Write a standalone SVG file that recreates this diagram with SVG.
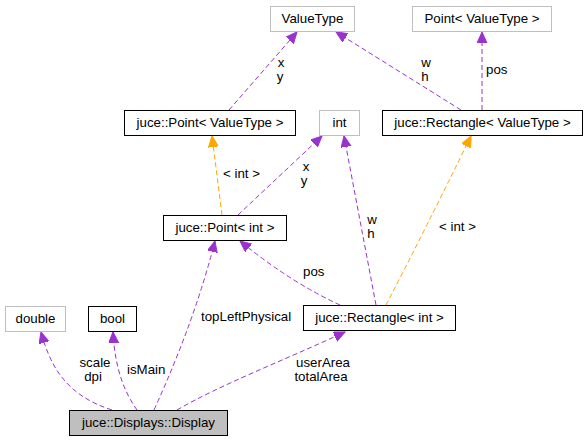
<svg xmlns="http://www.w3.org/2000/svg" width="587" height="441" viewBox="0 0 587 441">
<style>
  .n rect { fill: #ffffff; stroke: #000000; stroke-width: 1; }
  .n.u rect { stroke: #bfbfbf; }
  .n.cur rect { fill: #bfbfbf; stroke: #000000; }
  text { font-family: "Liberation Sans", Arial, Helvetica, sans-serif; font-size: 13.3px; fill: #000000; }
  .n text { text-anchor: middle; }
  .e { fill: none; stroke-width: 1; stroke-dasharray: 5,3; }
  .p { stroke: #9a32cd; marker-end: url(#ap); }
  .o { stroke: #ffa500; marker-end: url(#ao); }
  .lbl { text-anchor: middle; }
</style>
<defs>
  <marker id="ap" markerWidth="13" markerHeight="12" refX="11" refY="5" orient="auto" markerUnits="userSpaceOnUse">
    <path d="M0,0 L11,5 L0,10 z" fill="#9a32cd" stroke="#9a32cd" stroke-width="1"/>
  </marker>
  <marker id="ao" markerWidth="13" markerHeight="12" refX="11" refY="5" orient="auto" markerUnits="userSpaceOnUse">
    <path d="M0,0 L11,5 L0,10 z" fill="#ffa500" stroke="#ffa500" stroke-width="1"/>
  </marker>
</defs>
<rect x="0" y="0" width="587" height="441" fill="#ffffff"/>
<g id="connectors">
  <path class="e p" d="M229,110 L297,32"/>
  <path class="e p" d="M461,110 L336,32"/>
  <path class="e p" d="M482,110 L482,32"/>
  <path class="e o" d="M222,215 L212,136"/>
  <path class="e p" d="M238,215 L322,136"/>
  <path class="e p" d="M376,305 L344,136"/>
  <path class="e o" d="M386,305 Q425,230 471,136"/>
  <path class="e p" d="M340,305 Q290,282 240,241"/>
  <path class="e p" d="M112,410 C65,395 50,365 41,332"/>
  <path class="e p" d="M137,410 C125,393 115,370 113,332"/>
  <path class="e p" d="M154,410 Q195,320 215,241"/>
  <path class="e p" d="M177,410 C220,385 280,362 345,332"/>
  <g id="edge-labels">
    <text class="lbl" x="281" y="67">x</text>
    <text class="lbl" x="280" y="81">y</text>
    <text class="lbl" x="426" y="67">w</text>
    <text class="lbl" x="425" y="81">h</text>
    <text x="486" y="74">pos</text>
    <text x="223" y="178">&lt; int &gt;</text>
    <text class="lbl" x="306" y="171">x</text>
    <text class="lbl" x="304" y="185">y</text>
    <text class="lbl" x="372" y="224">w</text>
    <text class="lbl" x="371" y="238">h</text>
    <text x="439" y="231">&lt; int &gt;</text>
    <text x="303" y="276">pos</text>
    <text class="lbl" x="95" y="367">scale</text>
    <text class="lbl" x="93" y="381">dpi</text>
    <text x="127" y="374">isMain</text>
    <text x="201" y="321">topLeftPhysical</text>
    <text class="lbl" x="323" y="367">userArea</text>
    <text class="lbl" x="321" y="381">totalArea</text>
  </g>
</g>
<g id="node-ValueType" class="n u"><rect x="270.5" y="6.5" width="84" height="25"/><text x="312.5" y="23">ValueType</text></g>
<g id="node-PointValueType" class="n u"><rect x="412.5" y="6.5" width="139" height="25"/><text x="482" y="23">Point&lt; ValueType &gt;</text></g>
<g id="node-jucePointValueType" class="n"><rect x="124.5" y="110.5" width="171" height="25"/><text x="210" y="127">juce::Point&lt; ValueType &gt;</text></g>
<g id="node-int" class="n u"><rect x="319.5" y="110.5" width="40" height="25"/><text x="339.5" y="127">int</text></g>
<g id="node-juceRectangleValueType" class="n"><rect x="382.5" y="110.5" width="200" height="25"/><text x="482.5" y="127">juce::Rectangle&lt; ValueType &gt;</text></g>
<g id="node-jucePointInt" class="n"><rect x="163.5" y="215.5" width="123" height="25"/><text x="225" y="232">juce::Point&lt; int &gt;</text></g>
<g id="node-double" class="n u"><rect x="5.5" y="306.5" width="60" height="25"/><text x="35.5" y="323">double</text></g>
<g id="node-bool" class="n"><rect x="88.5" y="306.5" width="48" height="25"/><text x="112.5" y="323">bool</text></g>
<g id="node-juceRectangleInt" class="n"><rect x="303.5" y="305.5" width="152" height="25"/><text x="379.5" y="322">juce::Rectangle&lt; int &gt;</text></g>
<g id="node-Display" class="n cur"><rect x="69.5" y="410.5" width="158" height="25"/><text x="148.5" y="427">juce::Displays::Display</text></g>
</svg>
